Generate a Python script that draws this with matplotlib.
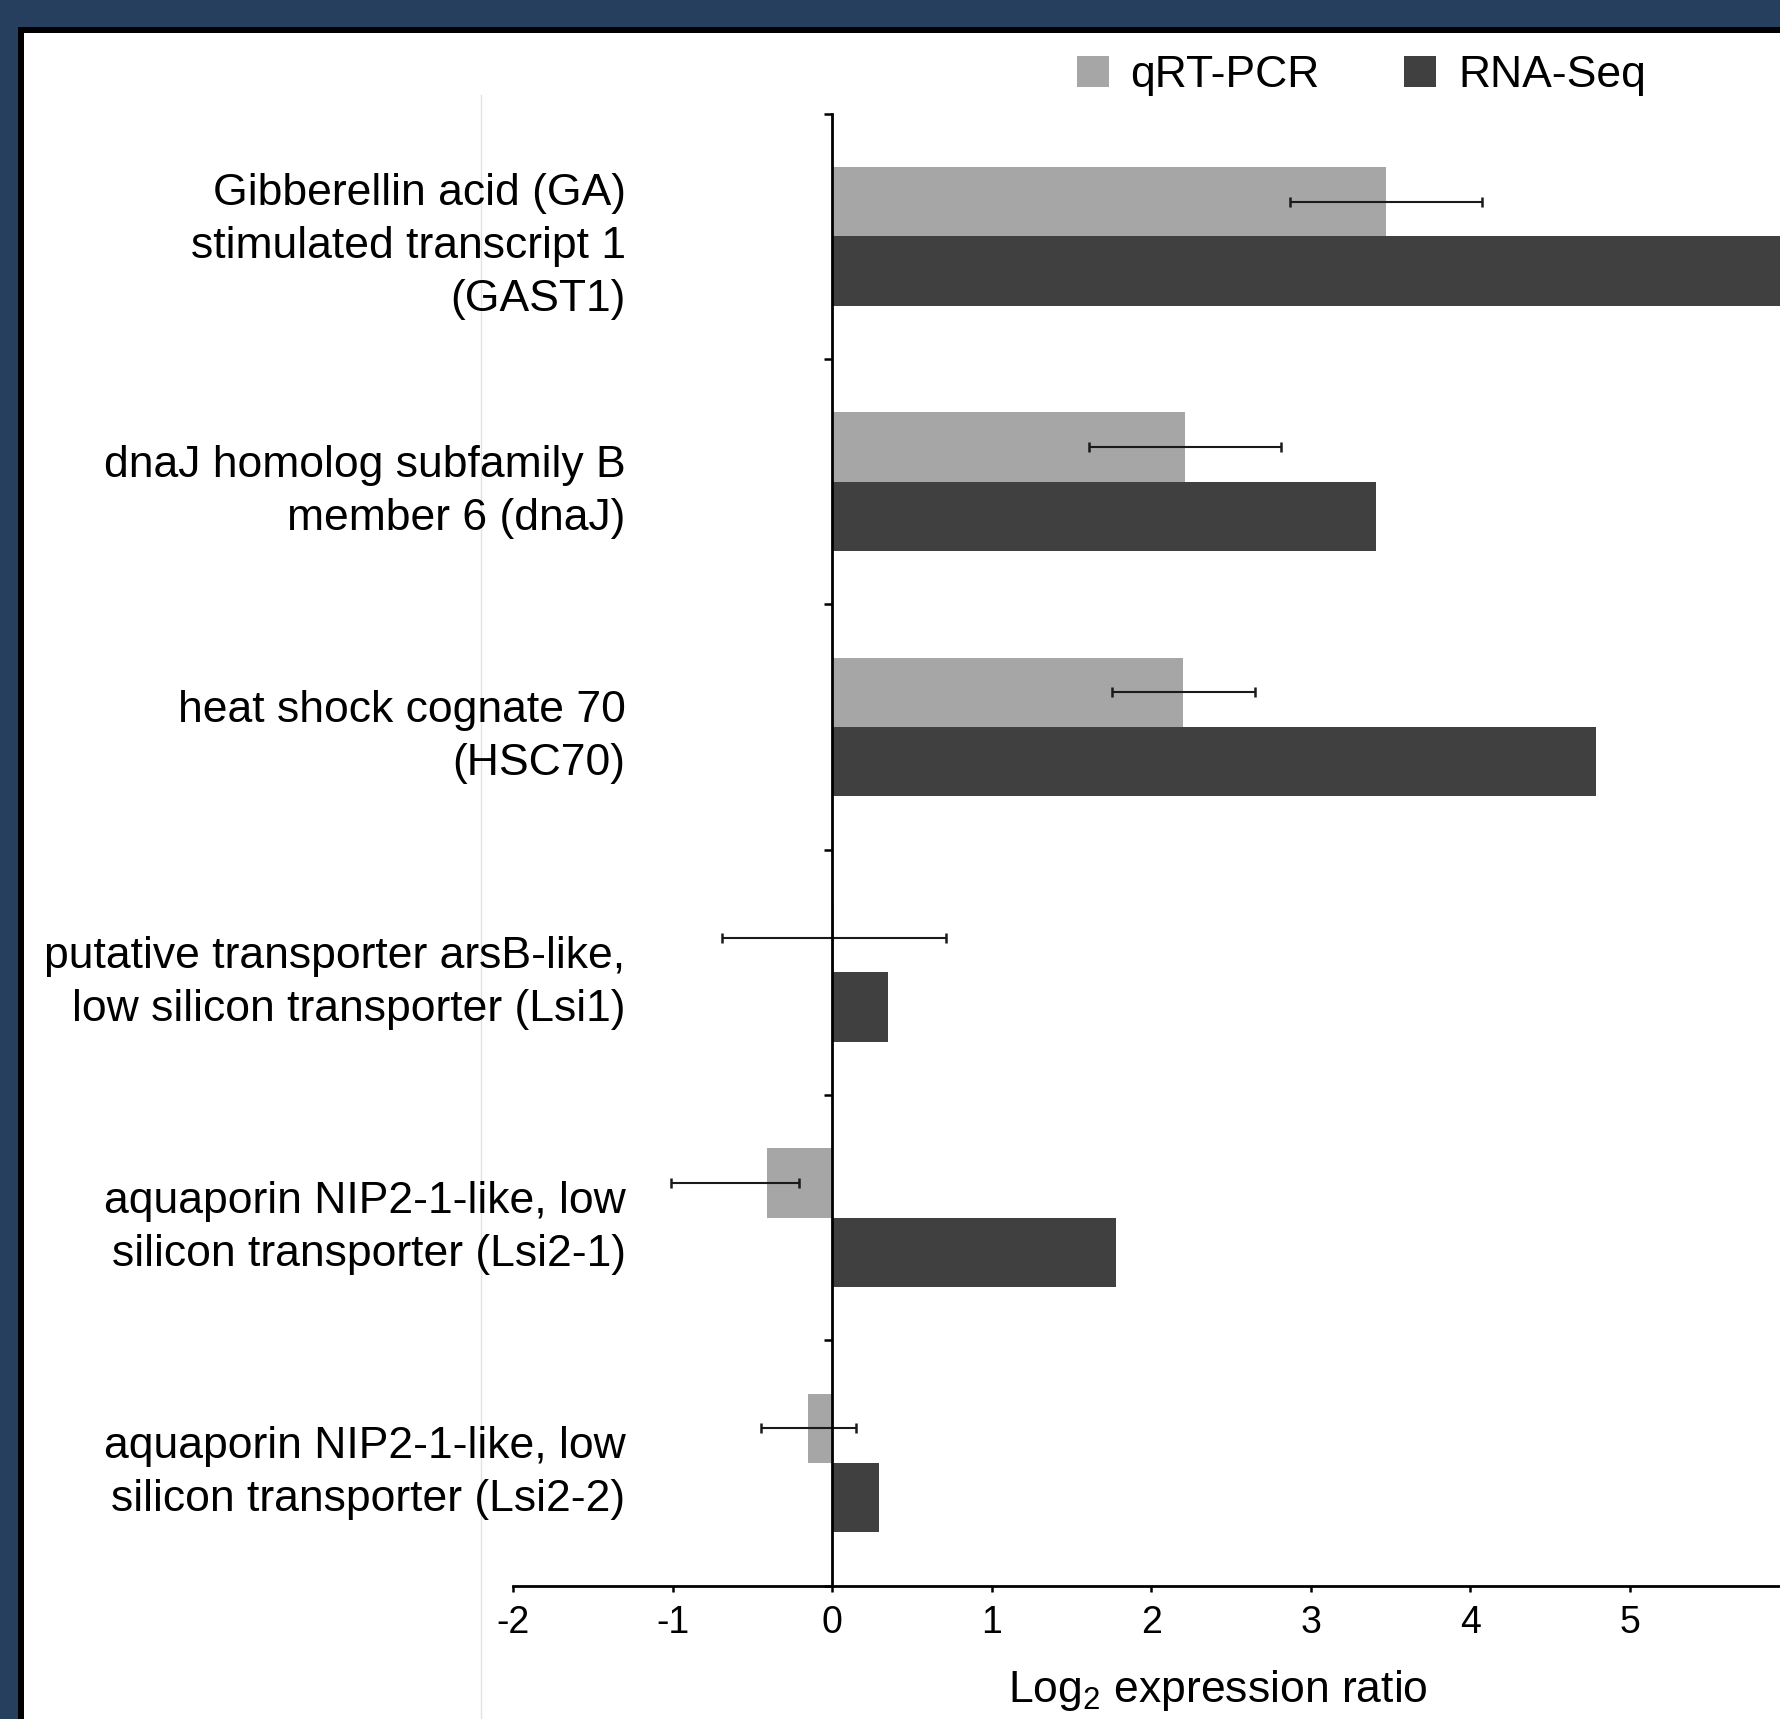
import matplotlib
matplotlib.use("Agg")
import matplotlib.pyplot as plt
import numpy as np
from matplotlib.lines import Line2D
from matplotlib.patches import Patch, Rectangle

# data (log2 expression ratio)
genes = [
    "Gibberellin acid (GA)\nstimulated transcript 1\n(GAST1)",
    "dnaJ homolog subfamily B\nmember 6 (dnaJ)",
    "heat shock cognate 70\n(HSC70)",
    "putative transporter arsB-like,\nlow silicon transporter (Lsi1)",
    "aquaporin NIP2-1-like, low\nsilicon transporter (Lsi2-1)",
    "aquaporin NIP2-1-like, low\nsilicon transporter (Lsi2-2)",
]
qrt_pcr = [3.47, 2.21, 2.20, 0.01, -0.41, -0.15]
qrt_err_low = [0.60, 0.60, 0.45, 0.70, 0.60, 0.30]
qrt_err_high = [0.60, 0.60, 0.45, 0.70, 0.20, 0.30]
rna_seq = [6.60, 3.41, 4.79, 0.35, 1.78, 0.29]
x_ticks = [-2, -1, 0, 1, 2, 3, 4, 5, 6, 7]

LIGHT = "#A6A6A6"
DARK = "#404040"

plt.rcParams.update({
    "font.family": ["Liberation Sans", "DejaVu Sans"],
    "mathtext.fontset": "custom",
    "mathtext.rm": "Liberation Sans",
    "mathtext.default": "regular",
})

W, H = 1781, 1719
fig = plt.figure(figsize=(W / 100, H / 100), dpi=100, facecolor="#263F5F")

# frame: black line then white panel
fig.add_artist(Rectangle((18 / W, 0), 1, 1 - 27 / H, transform=fig.transFigure,
                         facecolor="black", edgecolor="none", zorder=-10))
fig.add_artist(Rectangle((24 / W, 0), 1, 1 - 33 / H, transform=fig.transFigure,
                         facecolor="white", edgecolor="none", zorder=-9))
fig.add_artist(Line2D([481 / W, 481 / W], [0, 1 - 95 / H], transform=fig.transFigure,
                      color="#E2E2E2", lw=1, zorder=-8))

# axes: x from -2 to 7, the right part runs off the picture
px_per_unit = 159.5
ax_left = 513.4
ax_w = px_per_unit * (x_ticks[-1] - x_ticks[0])
ax = fig.add_axes([ax_left / W, (H - 1585.6) / H, ax_w / W, 1472 / H])
ax.set_facecolor("none")

n = len(genes)
y = np.arange(n)
h = 0.2825

ax.barh(y - h / 2, qrt_pcr, height=h, color=LIGHT, zorder=2)
ax.barh(y + h / 2, rna_seq, height=h, color=DARK, zorder=2)
ax.errorbar(qrt_pcr, y - h / 2, xerr=[qrt_err_low, qrt_err_high], fmt="none",
            ecolor="#1A1A1A", elinewidth=1.5, capsize=3.8, capthick=1.8, zorder=4)

ax.set_xlim(x_ticks[0], x_ticks[-1])
ax.set_ylim(n - 0.5, -0.5)

for s in ("top", "right"):
    ax.spines[s].set_visible(False)
ax.spines["left"].set_position(("data", 0))
ax.spines["left"].set_linewidth(2)
ax.spines["bottom"].set_linewidth(2)
ax.spines["left"].set_zorder(5)

ax.set_xticks(x_ticks)
ax.set_xticklabels([str(t) for t in x_ticks])
ax.tick_params(axis="x", direction="out", length=4.5, width=1.8, labelsize=27, pad=9.5)

# y: category separators as major ticks, gene names on minor ticks
ax.set_yticks(np.arange(-0.5, n, 1.0))
ax.set_yticklabels([])
ax.tick_params(axis="y", which="major", direction="out", length=6, width=1.8)
ax.set_yticks(y, minor=True)
ax.set_yticklabels(genes, minor=True, fontsize=32, linespacing=1.37)
ax.tick_params(axis="y", which="minor", length=0, pad=148.9)

ax.set_xlabel("Log$_2$ expression ratio", fontsize=32)
ax.xaxis.label.set_va("center")
ax.xaxis.set_label_coords(0.491, -(1690 - 1585.6) / 1472)

handles = [Patch(facecolor=LIGHT, edgecolor="none"), Patch(facecolor=DARK, edgecolor="none")]
fig.legend(handles, ["qRT-PCR", "RNA-Seq"], loc="center left",
           bbox_to_anchor=(1076.8 / W, 1 - 75.5 / H), ncol=2, frameon=False,
           fontsize=32, handlelength=0.72, handleheight=0.72, handletextpad=0.49,
           columnspacing=1.9, borderpad=0, borderaxespad=0)

fig.savefig("out.png", dpi=100, facecolor=fig.get_facecolor())
